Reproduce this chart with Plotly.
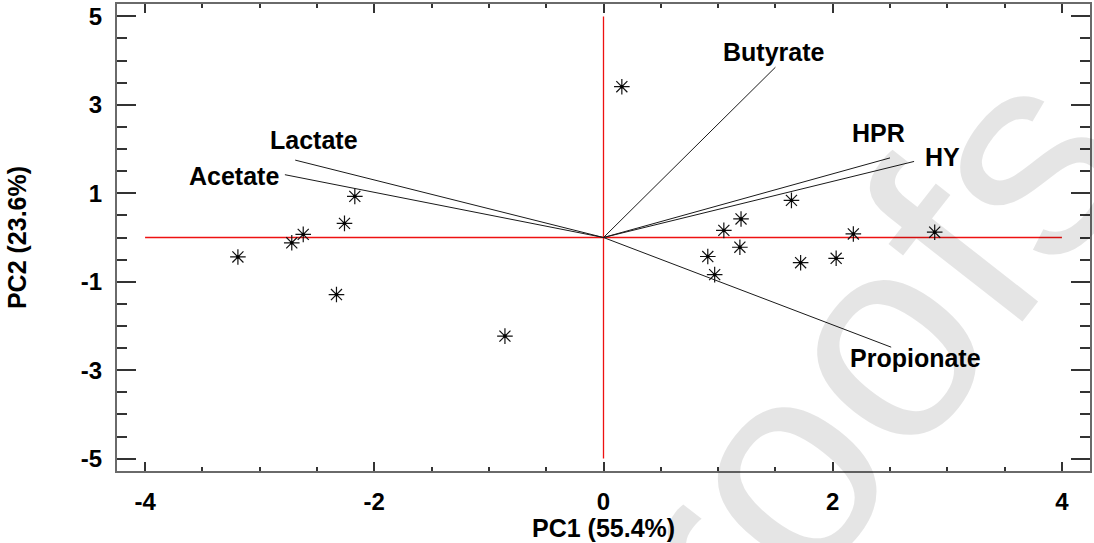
import plotly.graph_objects as go

# ---- data ----
pc1_scores = [-3.19, -2.72, -2.62, -2.26, -2.17, -2.33, -0.86, 0.16, 0.91, 0.97,
              1.05, 1.20, 1.19, 1.64, 1.72, 2.03, 2.18, 2.89]
pc2_scores = [-0.44, -0.12, 0.07, 0.32, 0.93, -1.29, -2.23, 3.41, -0.43, -0.84,
              0.16, 0.42, -0.22, 0.84, -0.57, -0.47, 0.08, 0.12]

variables = ["Butyrate", "HPR", "HY", "Propionate", "Lactate", "Acetate"]
load_pc1 = [1.50, 2.50, 2.71, 2.51, -2.69, -2.78]
load_pc2 = [3.85, 1.80, 1.72, -2.48, 1.75, 1.42]
label_pc1 = [1.49, 2.40, 2.96, 2.725, -2.53, -3.22]
label_pc2 = [4.19, 2.36, 1.81, -2.73, 2.20, 1.38]

ref_x = [-4, 4]
ref_y = [-5, 5]

x_tickvals = [-4, -2, 0, 2, 4]
x_ticktext = ["-4", "-2", "0", "2", "4"]
y_tickvals = [-5, -3, -1, 1, 3, 5]
y_ticktext = ["-5", "-3", "-1", "1", "3", "5"]

x_title = "PC1 (55.4%)"
y_title = "PC2 (23.6%)"
watermark = "proofs"

FONT = "Liberation Sans, Arial, sans-serif"

fig = go.Figure()

# reference lines through origin
fig.add_trace(go.Scatter(x=ref_x, y=[0, 0], mode="lines",
                         line=dict(color="#ee1111", width=1.3), hoverinfo="skip"))
fig.add_trace(go.Scatter(x=[0, 0], y=ref_y, mode="lines",
                         line=dict(color="#ee1111", width=1.3), hoverinfo="skip"))

# loading vectors
vx, vy = [], []
for a, b in zip(load_pc1, load_pc2):
    vx += [0, a, None]
    vy += [0, b, None]
fig.add_trace(go.Scatter(x=vx, y=vy, mode="lines",
                         line=dict(color="#1a1a1a", width=1), hoverinfo="skip"))

# scores
fig.add_trace(go.Scatter(x=pc1_scores, y=pc2_scores, mode="markers",
                         marker=dict(symbol="asterisk-open", size=13, color="#111111",
                                     line=dict(color="#111111", width=1.2))))
fig.add_trace(go.Scatter(x=pc1_scores, y=pc2_scores, mode="markers",
                         marker=dict(symbol="circle", size=3.5, color="#000000")))

annotations = []
for name, lx, ly in zip(variables, label_pc1, label_pc2):
    annotations.append(dict(x=lx, y=ly, xref="x", yref="y", text=name, showarrow=False,
                            xanchor="center", yanchor="middle",
                            font=dict(family=FONT, size=25, color="#000000", weight="bold")))

annotations.append(dict(x=0.5, y=-0.1226, xref="paper", yref="paper", text=x_title,
                        showarrow=False, xanchor="center", yanchor="middle",
                        font=dict(family=FONT, size=25, color="#000000", weight="bold")))
annotations.append(dict(x=-0.1032, y=0.5, xref="paper", yref="paper", text=y_title,
                        showarrow=False, xanchor="center", yanchor="middle", textangle=-90,
                        font=dict(family=FONT, size=25, color="#000000", weight="bold")))

# light watermark (semi-transparent so it appears behind the marks)
annotations.append(dict(x=0.7212, y=0.1085, xref="paper", yref="paper", text=watermark,
                        showarrow=False, xanchor="center", yanchor="middle", textangle=-52,
                        font=dict(family=FONT, size=290, color="rgba(0,0,0,0.10)")))

axis_common = dict(showgrid=False, zeroline=False, showline=True, linecolor="#6a6a6a",
                   linewidth=2, mirror="allticks", ticks="inside", tickcolor="#333333",
                   tickwidth=1.5, tickfont=dict(family=FONT, size=24, color="#000000", weight="bold"))

fig.update_layout(
    width=1094, height=543,
    margin=dict(l=117, r=2, t=3, b=72),
    paper_bgcolor="white", plot_bgcolor="white",
    showlegend=False,
    annotations=annotations,
    xaxis=dict(range=[-4.245, 4.245], tickvals=x_tickvals, ticktext=x_ticktext,
               ticklen=9, ticklabelstandoff=8,
               minor=dict(dtick=0.5, tick0=0, ticks="inside", ticklen=4,
                          tickcolor="#333333", tickwidth=1.5),
               **axis_common),
    yaxis=dict(range=[-5.28, 5.28], tickvals=y_tickvals, ticktext=y_ticktext,
               ticklen=19, ticklabelstandoff=8,
               minor=dict(dtick=0.5, tick0=0, ticks="inside", ticklen=10,
                          tickcolor="#333333", tickwidth=1.5),
               **axis_common),
)

fig.write_html("out.html")
